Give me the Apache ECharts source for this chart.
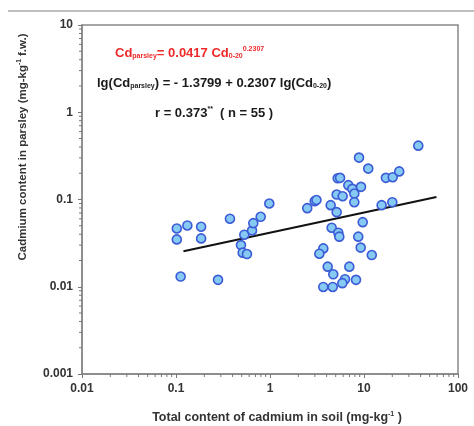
<!DOCTYPE html>
<html>
<head>
<meta charset="utf-8">
<script src="https://cdn.jsdelivr.net/npm/echarts@6/dist/echarts.min.js"></script>
<style>
    html, body { margin: 0; padding: 0; background: #fff; }
    #chart { width: 474px; height: 426px; }
</style>
</head>
<body>
<div id="chart"></div>
<script>
    // total Cd in soil (mg/kg) and Cd in parsley (mg/kg f.w.)
    var soilCd = [
        0.102, 0.102, 0.132, 0.185, 0.185, 0.112, 0.28, 0.375, 0.533, 0.644,
        0.664, 0.796, 0.983, 0.491, 0.512, 0.569, 2.49, 2.99, 3.12, 4.42,
        5.12, 5.12, 5.25, 5.56, 5.93, 6.81, 7.51, 7.89, 7.89, 8.85,
        9.29, 11.1, 9.69, 4.53, 5.33, 5.46, 8.69, 9.22, 12.1, 3.69,
        3.35, 4.11, 4.71, 6.98, 6.28, 5.88, 8.22, 3.69, 4.65, 15.4,
        20.0, 17.1, 20.2, 23.7, 37.8
    ];
    var parsleyCd = [
        0.0466, 0.0349, 0.0504, 0.0488, 0.0358, 0.0131, 0.0120, 0.0602, 0.0395, 0.0442,
        0.0536, 0.0634, 0.090, 0.030, 0.0246, 0.0237, 0.0796, 0.0957, 0.0987, 0.0861,
        0.0716, 0.114, 0.175, 0.177, 0.109, 0.146, 0.1325, 0.117, 0.0931, 0.302,
        0.1397, 0.226, 0.055, 0.0475, 0.0416, 0.0375, 0.0375, 0.0281, 0.0231, 0.0275,
        0.0239, 0.017, 0.0139, 0.017, 0.0122, 0.011, 0.012, 0.00995, 0.00995, 0.0861,
        0.0931, 0.177, 0.180, 0.210, 0.414
    ];
    // ends of the fitted power line
    var fitLine = [[0.12, 0.0255], [59, 0.107]];

    var xTickLabels = ['0.01', '0.1', '1', '10', '100'];
    var yTickLabels = ['0.001', '0.01', '0.1', '1', '10'];
    var xDecades = [0.01, 0.1, 1, 10];
    var yDecades = [0.001, 0.01, 0.1, 1];
    var minorSteps = [2, 3, 4, 5, 6, 7, 8, 9];

    var X_MIN = 0.01, X_MAX = 100, Y_MIN = 0.001, Y_MAX = 10;
    var FONT = '"Liberation Sans", Arial, sans-serif';

    var chart = echarts.init(document.getElementById('chart'));

    var points = soilCd.map(function (x, i) { return [x, parsleyCd[i]]; });

    var xMinor = [], yMinor = [];
    xDecades.forEach(function (d) {
        minorSteps.forEach(function (s) { xMinor.push([d * s, Y_MIN]); });
    });
    yDecades.forEach(function (d) {
        minorSteps.forEach(function (s) { yMinor.push([X_MIN, d * s]); });
    });

    //minor ticks on log axes, drawn through the axis scales
    function minorTicks(data, dir) {
        return {
            type: 'custom',
            silent: true,
            clip: false,
            z: 1,
            data: data,
            renderItem: function (params, api) {
                var p = api.coord([api.value(0), api.value(1)]);
                var q = dir === 'x' ? [p[0], p[1] + 3] : [p[0] - 3, p[1]];
                return {
                    type: 'line',
                    shape: { x1: p[0], y1: p[1], x2: q[0], y2: q[1] },
                    style: { stroke: '#777', lineWidth: 1 }
                };
            }
        };
    }

    function tok(size, color, pad) {
        var t = { fontSize: size, fontWeight: 'bold', fontFamily: FONT, fill: color };
        if (pad) t.padding = pad;
        return t;
    }
    function richSet(color, big) {
        return {
            m: tok(big, color),
            s: tok(7, color, [7, 0, 0, 0]),
            p: tok(7, color, [0, 0, 8, 0])
        };
    }

    var option = {
        animation: false,
        grid: {
            left: 82, right: 16, top: 25, bottom: 52,
            show: true,
            borderColor: '#888',
            borderWidth: 1.5
        },
        xAxis: {
            type: 'log',
            logBase: 10,
            min: X_MIN,
            max: X_MAX,
            axisLine: { lineStyle: { color: '#888', width: 1.5 } },
            axisTick: { show: true, length: 4, lineStyle: { color: '#777' } },
            splitLine: { show: false },
            axisLabel: {
                margin: 9,
                color: '#333',
                fontSize: 12,
                fontWeight: 'bold',
                fontFamily: FONT,
                formatter: function (v, i) { return xTickLabels[i]; }
            }
        },
        yAxis: {
            type: 'log',
            logBase: 10,
            min: Y_MIN,
            max: Y_MAX,
            axisLine: { lineStyle: { color: '#888', width: 1.5 } },
            axisTick: { show: true, length: 4, lineStyle: { color: '#777' } },
            splitLine: { show: false },
            axisLabel: {
                margin: 9,
                color: '#333',
                fontSize: 12,
                fontWeight: 'bold',
                fontFamily: FONT,
                formatter: function (v, i) { return yTickLabels[i]; }
            }
        },
        graphic: [{
            type: 'line',
            shape: { x1: 8, y1: 11, x2: 474, y2: 11 },
            style: { stroke: '#aaa', lineWidth: 1.5 }
        }, {
            type: 'text',
            x: 115, y: 53,
            style: {
                text: '{m|Cd}{s|parsley}{m|= 0.0417 Cd}{s|0-20}{p|0.2307}',
                rich: richSet('#ee2a2a', 13),
                textVerticalAlign: 'middle'
            }
        }, {
            type: 'text',
            x: 97, y: 83,
            style: {
                text: '{m|lg(Cd}{s|parsley}{m|) = - 1.3799 + 0.2307 lg(Cd}{s|0-20}{m|)}',
                rich: richSet('#1a1a1a', 13),
                textVerticalAlign: 'middle'
            }
        }, {
            type: 'text',
            x: 155, y: 113,
            style: {
                text: '{m|r = 0.373}{p|**}{m|  ( n = 55 )}',
                rich: richSet('#1a1a1a', 13),
                textVerticalAlign: 'middle'
            }
        }, {
            type: 'text',
            x: 23, y: 147,
            rotation: Math.PI / 2,
            style: {
                text: '{m|Cadmium content in parsley (mg-kg}{p|-1}{m| f.w.)}',
                rich: {
                    m: tok(11.5, '#333'),
                    p: tok(6.5, '#333', [0, 0, 7, 0])
                },
                textAlign: 'center',
                textVerticalAlign: 'middle'
            }
        }, {
            type: 'text',
            x: 277, y: 418,
            style: {
                text: '{m|Total content of cadmium in soil (mg-kg}{p|-1}{m| )}',
                rich: {
                    m: tok(12.5, '#333'),
                    p: tok(7, '#333', [0, 0, 7, 0])
                },
                textAlign: 'center',
                textVerticalAlign: 'middle'
            }
        }],
        series: [
            minorTicks(xMinor, 'x'),
            minorTicks(yMinor, 'y'),
            {
                type: 'line',
                data: fitLine,
                symbol: 'none',
                silent: true,
                z: 3,
                lineStyle: { color: '#111', width: 2 }
            },
            {
                type: 'scatter',
                data: points,
                symbol: 'circle',
                symbolSize: 9,
                z: 4,
                itemStyle: {
                    color: '#86c9f2',
                    borderColor: '#3c5bd6',
                    borderWidth: 1.6,
                    opacity: 1
                }
            }
        ]
    };

    chart.setOption(option);
</script>
</body>
</html>
